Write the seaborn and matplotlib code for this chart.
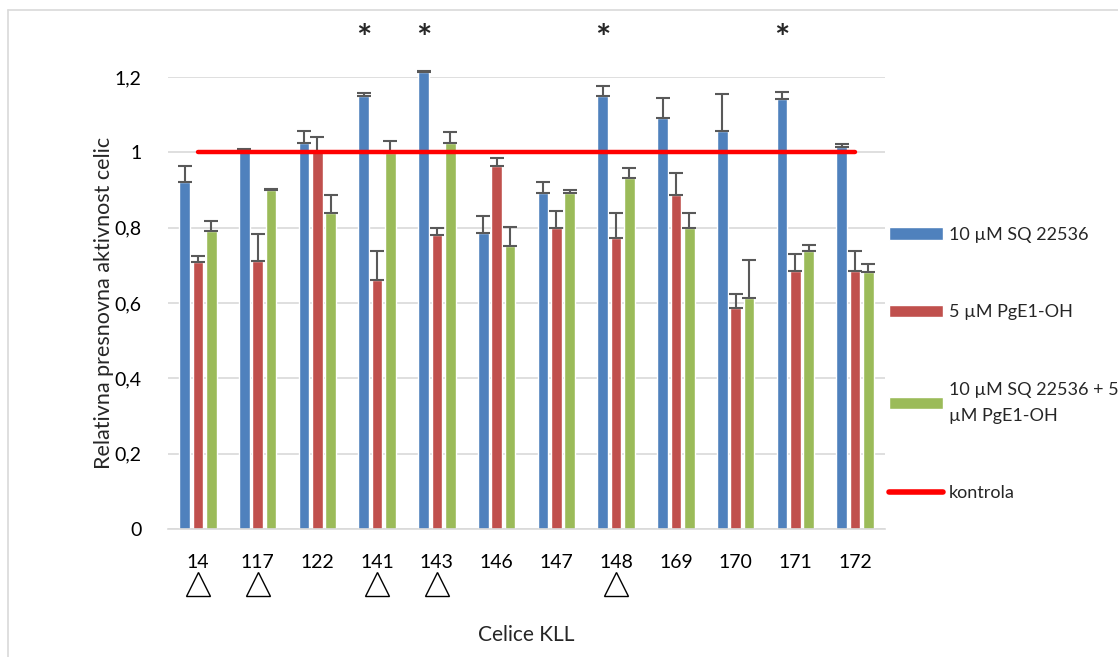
import pandas as pd
import numpy as np
import matplotlib
matplotlib.use('Agg')
import matplotlib.pyplot as plt
import seaborn as sns
from matplotlib.patches import Patch
from matplotlib.lines import Line2D

# data
cells = ['14', '117', '122', '141', '143', '146', '147', '148', '169', '170', '171', '172']
sq = [0.922, 1.007, 1.024, 1.149, 1.213, 0.786, 0.891, 1.150, 1.092, 1.057, 1.142, 1.015]
pge = [0.710, 0.712, 1.000, 0.662, 0.780, 0.965, 0.800, 0.772, 0.886, 0.586, 0.684, 0.684]
combo = [0.790, 0.899, 0.839, 0.997, 1.026, 0.752, 0.891, 0.933, 0.798, 0.613, 0.739, 0.681]
sq_err = [0.042, 0.003, 0.033, 0.008, 0.002, 0.045, 0.029, 0.027, 0.051, 0.098, 0.019, 0.008]
pge_err = [0.016, 0.072, 0.042, 0.076, 0.020, 0.021, 0.045, 0.066, 0.059, 0.039, 0.045, 0.053]
combo_err = [0.028, 0.003, 0.047, 0.034, 0.029, 0.050, 0.008, 0.025, 0.042, 0.101, 0.014, 0.022]
control = 1.0

series = ['10 µM SQ 22536', '5 µM PgE1-OH', '10 µM SQ 22536 + 5\nµM PgE1-OH']
colors = ['#4F81BD', '#C0504D', '#9BBB59']
star_cells = ['141', '143', '148', '171']
triangle_cells = ['14', '117', '141', '143', '148']

df = pd.DataFrame({
    'cell': cells * 3,
    'series': [series[0]] * 12 + [series[1]] * 12 + [series[2]] * 12,
    'value': sq + pge + combo,
    'err': sq_err + pge_err + combo_err,
})

sns.set_style('white')
plt.rcParams['font.family'] = ['Lato', 'DejaVu Sans']

fig = plt.figure(figsize=(11.18, 6.57), dpi=100)
ax = fig.add_axes([168 / 1118, 1 - 529 / 657, 717 / 1118, 452 / 657])

sns.barplot(data=df, x='cell', y='value', hue='series', order=cells, hue_order=series,
            palette=colors, width=0.67, gap=0.2, saturation=1, errorbar=None,
            legend=False, ax=ax, zorder=2)

# upper-only error bars, placed on the drawn bars
bars = ax.patches
for b in bars:
    b.set_clip_on(False)
xs = [b.get_x() + b.get_width() / 2 for b in bars]
hs = [b.get_height() for b in bars]
errs = df['err'].tolist()
eb = ax.errorbar(xs, hs, yerr=[np.zeros(len(errs)), errs], fmt='none', ecolor='#595959',
                 elinewidth=1.5, capsize=5, capthick=1.5, zorder=3)
for part in eb.lines[1] + eb.lines[2]:
    part.set_clip_on(False)

# control line from first to last cell
ax.plot([0, len(cells) - 1], [control, control], color='#FF0000', lw=3.2,
        solid_capstyle='round', zorder=4)

ax.set_xlim(-0.5, len(cells) - 0.5)
ax.set_ylim(0, 1.2)
ax.set_yticks([0, 0.2, 0.4, 0.6, 0.8, 1.0, 1.2])
ax.set_yticklabels(['0', '0,2', '0,4', '0,6', '0,8', '1', '1,2'])
ax.grid(axis='y', color='#D9D9D9', lw=1.2, zorder=0)
ax.set_axisbelow(True)
for s in ['top', 'right', 'left']:
    ax.spines[s].set_visible(False)
ax.spines['bottom'].set_color('#D9D9D9')
ax.spines['bottom'].set_linewidth(1.2)
ax.tick_params(axis='both', length=0, labelsize=14, colors='black')
ax.tick_params(axis='x', pad=18)
ax.tick_params(axis='y', pad=19)
ax.set_xlabel('Celice KLL', fontsize=15, labelpad=39)
ax.set_ylabel('Relativna presnovna aktivnost celic', fontsize=15.5, labelpad=0)

# significance stars over the blue bars and triangles under the cell labels
blue_x = xs[:len(cells)]
for c in star_cells:
    i = cells.index(c)
    ax.text(blue_x[i], 1.30, '*', ha='center', va='center', fontsize=26,
            fontweight='bold', clip_on=False)
trans = ax.get_xaxis_transform()
tri_x = [cells.index(c) for c in triangle_cells]
ax.plot(tri_x, [-0.122] * len(tri_x), linestyle='none', marker='^', markersize=17,
        markerfacecolor='white', markeredgecolor='black', markeredgewidth=1.0,
        transform=trans, clip_on=False)

handles = [Patch(facecolor=c) for c in colors] + [Line2D([], [], color='#FF0000', lw=4)]
labels = series + ['kontrola']
leg = fig.legend(handles, labels, loc='upper left', bbox_to_anchor=(880 / 1118, 1 - 218 / 657),
                 frameon=False, fontsize=13, handlelength=3.0, handleheight=0.7,
                 handletextpad=0.3, labelspacing=3.4, borderpad=0)
for t in leg.get_texts():
    t.set_linespacing(1.75)

# light chart-area border (left and top)
fig.add_artist(Line2D([8 / 1118, 8 / 1118], [0, 1 - 10 / 657], color='#D9D9D9', lw=1.2))
fig.add_artist(Line2D([8 / 1118, 1], [1 - 10 / 657, 1 - 10 / 657], color='#D9D9D9', lw=1.2))

fig.savefig('out.png', dpi=100)
